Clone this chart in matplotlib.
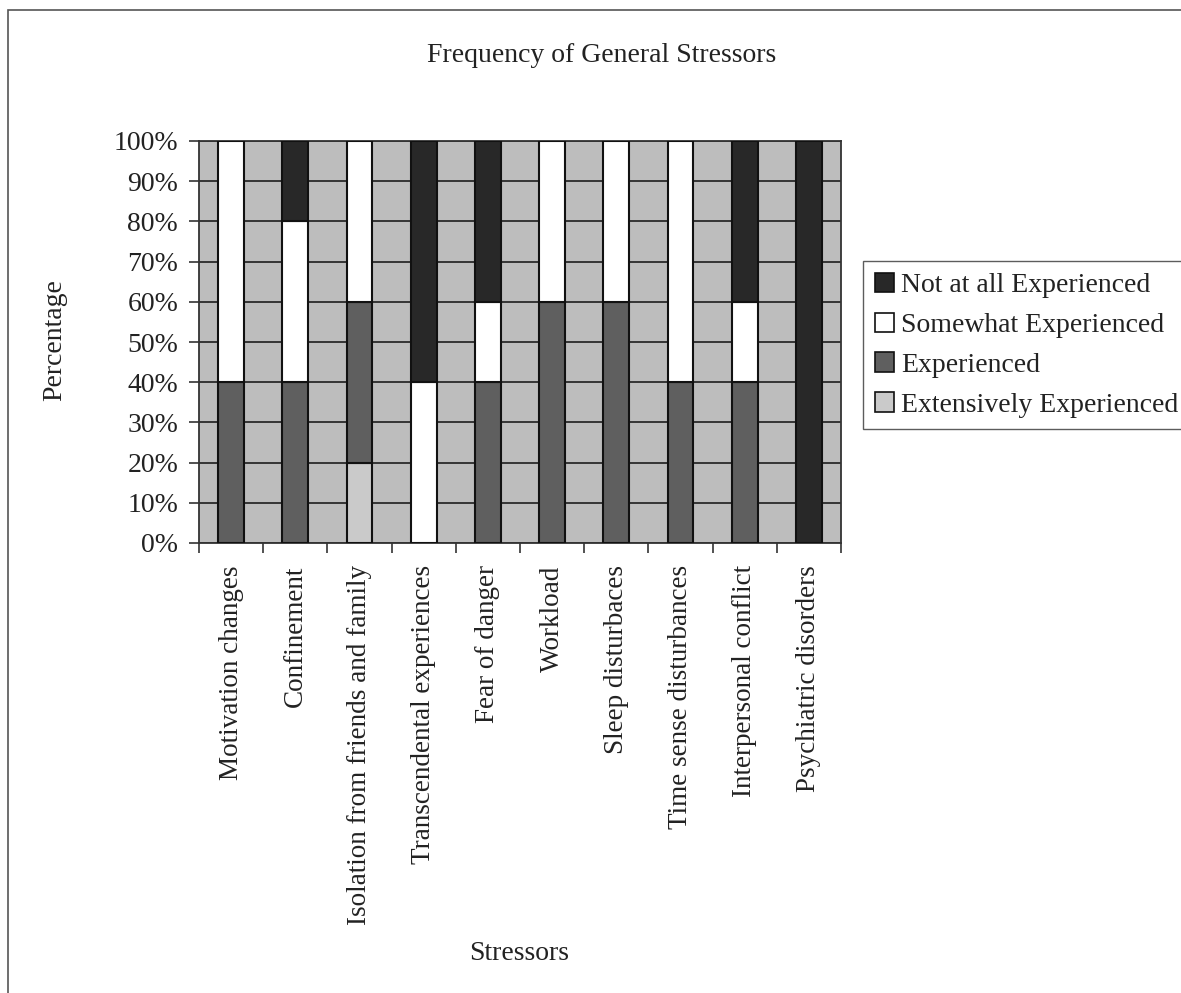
import numpy as np
import matplotlib
matplotlib.use("Agg")
import matplotlib.pyplot as plt
from matplotlib.patches import Rectangle, Patch
from matplotlib.ticker import FixedLocator, PercentFormatter

plt.rcParams['font.family'] = ['Liberation Serif', 'DejaVu Serif']

categories = ["Motivation changes", "Confinement", "Isolation from friends and family",
              "Transcendental experiences", "Fear of danger", "Workload",
              "Sleep disturbaces", "Time sense disturbances", "Interpersonal conflict",
              "Psychiatric disorders"]

# percentages per response level (stacked bottom to top)
extensively = [0, 0, 20, 0, 0, 0, 0, 0, 0, 0]
experienced = [40, 40, 40, 0, 40, 60, 60, 40, 40, 0]
somewhat = [60, 40, 40, 40, 20, 40, 40, 60, 20, 0]
not_at_all = [0, 20, 0, 60, 40, 0, 0, 0, 40, 100]

series = [
    ("Extensively Experienced", extensively, "#cacaca"),
    ("Experienced", experienced, "#5f5f5f"),
    ("Somewhat Experienced", somewhat, "#ffffff"),
    ("Not at all Experienced", not_at_all, "#282828"),
]

W, H = 1181, 993
fig = plt.figure(figsize=(W / 100, H / 100), dpi=100)
fig.patch.set_facecolor("white")

# chart border (open to the right and bottom)
fig.patches.append(Rectangle((8 / W, -0.2), 1.2, 1.2 - 10 / H, transform=fig.transFigure,
                             fill=False, edgecolor="#555555", linewidth=1.2))

ax = fig.add_axes([199 / W, 1 - 543 / H, (841 - 199) / W, (543 - 141) / H])
ax.set_facecolor("#bdbdbd")

x = np.arange(len(categories))
bottom = np.zeros(len(categories))
fs = 20
for name, vals, color in series:
    vals = np.array(vals, dtype=float)
    m = vals > 0
    ax.bar(x[m], vals[m], bottom=bottom[m], width=0.4, color=color,
           edgecolor="#111111", linewidth=1.5, zorder=3)
    bottom += vals

ax.set_xlim(-0.5, len(categories) - 0.5)
ax.set_ylim(0, 100)
ax.yaxis.set_major_locator(FixedLocator(np.arange(0, 101, 10)))
ax.yaxis.set_major_formatter(PercentFormatter(decimals=0))
ax.yaxis.grid(True, color="#2a2a2a", linewidth=1.3, zorder=1)
ax.set_axisbelow(True)

ax.set_xticks(x)
ax.set_xticklabels(categories, rotation=90, fontsize=19.5, color="#222222")
ax.set_xticks(np.arange(-0.5, len(categories), 1), minor=True)
ax.tick_params(axis="x", which="major", length=0, pad=16)
ax.tick_params(axis="x", which="minor", length=7, width=1.2, color="#333333")
ax.tick_params(axis="y", length=7, width=1.2, color="#333333", labelsize=fs,
               labelcolor="#222222", pad=8)

for s in ["left", "bottom", "right", "top"]:
    ax.spines[s].set_color("#333333")
    ax.spines[s].set_linewidth(1.3)

fig.text(55 / W, 1 - 340 / H, "Percentage", fontsize=fs, color="#222222",
         rotation=90, ha="center", va="center")
fig.text(519 / W, 1 - 953 / H, "Stressors", fontsize=fs, color="#222222",
         ha="center", va="center")
fig.text(602 / W, 1 - 55 / H, "Frequency of General Stressors", fontsize=fs,
         color="#222222", ha="center", va="center")

handles = [Patch(facecolor=c, edgecolor="#111111", linewidth=1.2, label=n)
           for n, _, c in series[::-1]]
leg = fig.legend(handles=handles, loc="upper left",
                 bbox_to_anchor=(863 / W, 1 - 261 / H), fontsize=fs,
                 frameon=True, fancybox=False, handlelength=0.7, handleheight=0.7,
                 handletextpad=0.25, borderpad=0.42, labelspacing=0.52,
                 borderaxespad=0)
leg.get_frame().set_edgecolor("#333333")
leg.get_frame().set_linewidth(1.0)
for t in leg.get_texts():
    t.set_color("#222222")

fig.savefig("out.png", dpi=100, facecolor="white")
